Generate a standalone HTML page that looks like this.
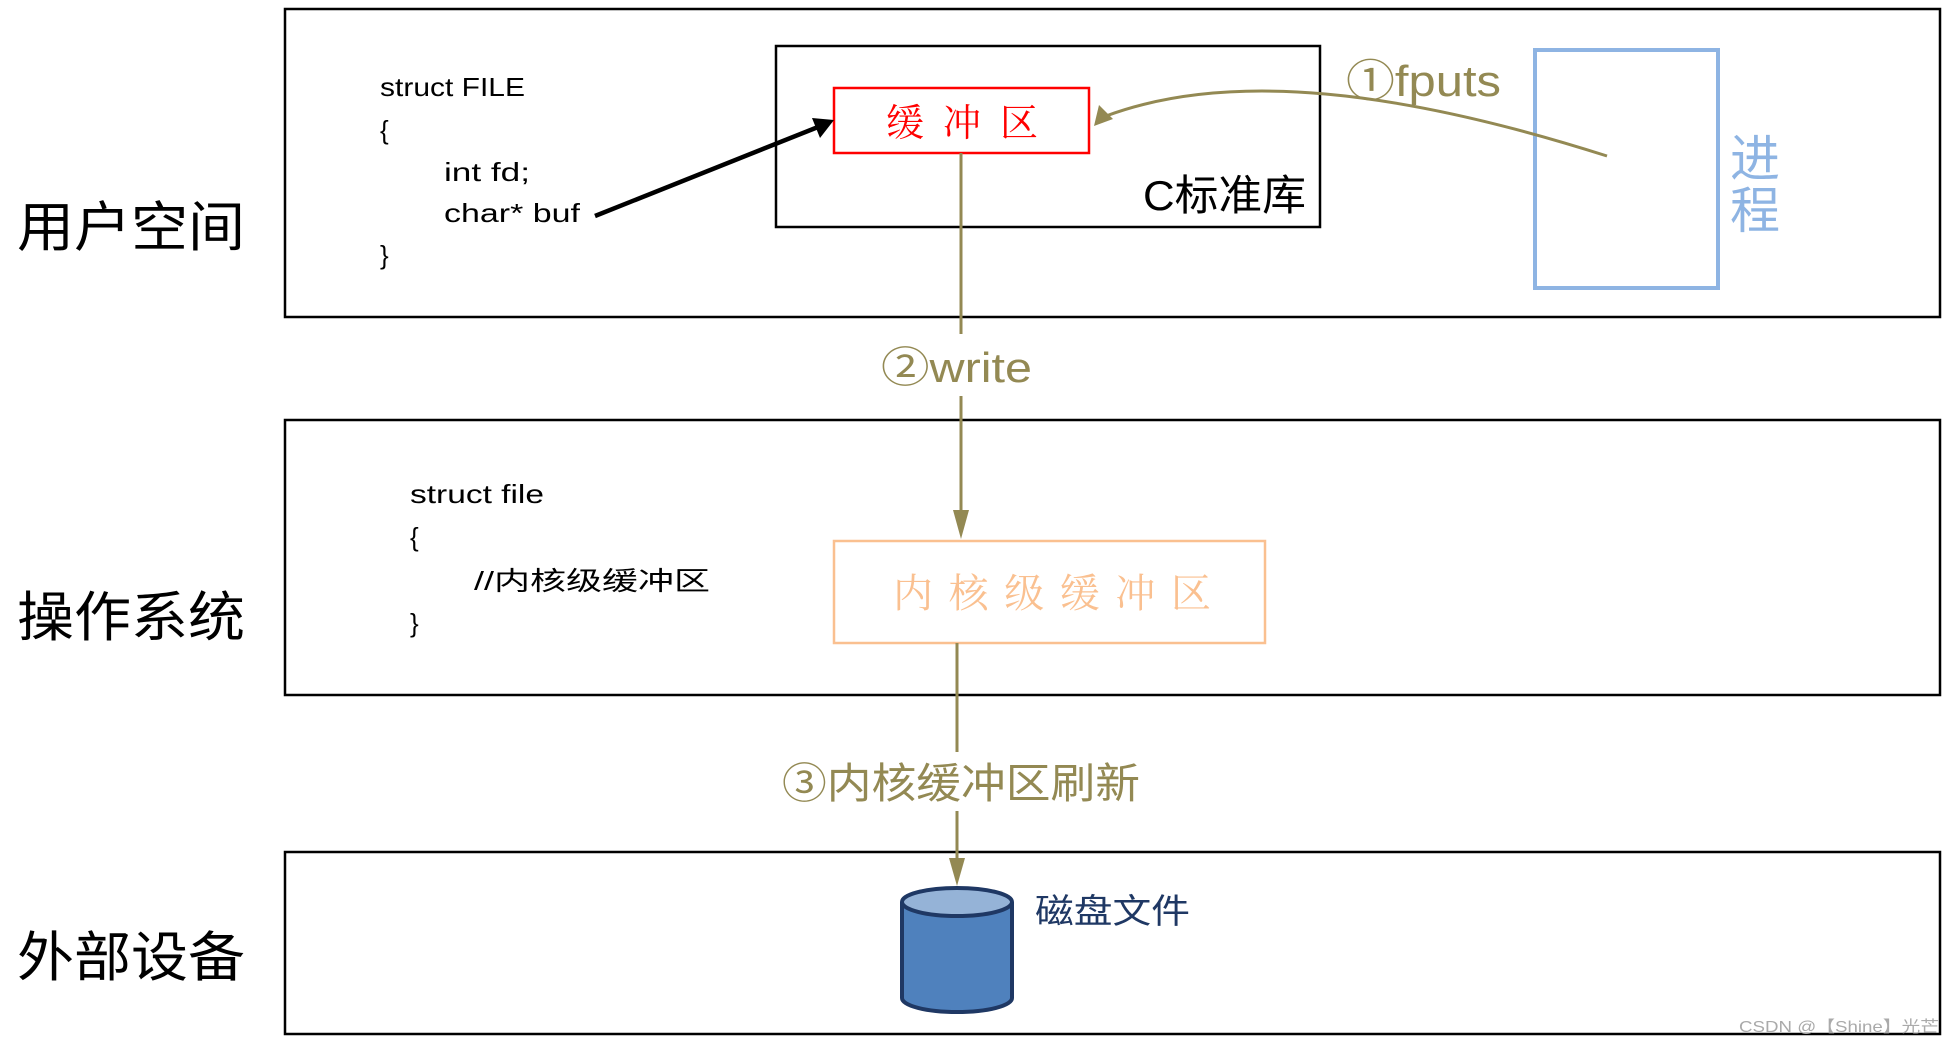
<!DOCTYPE html>
<html><head><meta charset="utf-8"><style>
html,body{margin:0;padding:0;background:#fff;}
svg{display:block;}
text{font-family:"Liberation Sans","Noto Sans CJK SC",sans-serif;}
</style></head><body>
<svg width="1954" height="1046" viewBox="0 0 1954 1046" xmlns="http://www.w3.org/2000/svg">
<!-- main boxes -->
<rect x="285" y="9" width="1655" height="308" fill="none" stroke="#000" stroke-width="2.5"/>
<rect x="285" y="420" width="1655" height="275" fill="none" stroke="#000" stroke-width="2.5"/>
<rect x="285" y="852" width="1655" height="182" fill="none" stroke="#000" stroke-width="2.5"/>
<!-- left labels -->
<text x="17" y="246" font-size="54" fill="#000" textLength="228" lengthAdjust="spacingAndGlyphs">用户空间</text>
<text x="17" y="636" font-size="54" fill="#000" textLength="228" lengthAdjust="spacingAndGlyphs">操作系统</text>
<text x="17" y="976" font-size="54" fill="#000" textLength="228" lengthAdjust="spacingAndGlyphs">外部设备</text>
<!-- struct FILE -->
<g font-size="26" fill="#000">
<text x="380" y="96" textLength="145" lengthAdjust="spacingAndGlyphs">struct FILE</text>
<text x="380" y="139">{</text>
<text x="444" y="181" textLength="86" lengthAdjust="spacingAndGlyphs">int fd;</text>
<text x="444" y="222" textLength="136" lengthAdjust="spacingAndGlyphs">char* buf</text>
<text x="380" y="264">}</text>
</g>
<!-- C lib box -->
<rect x="776" y="46" width="544" height="181" fill="none" stroke="#000" stroke-width="2.5"/>
<text x="1143" y="210" font-size="42" fill="#000" textLength="163" lengthAdjust="spacingAndGlyphs">C标准库</text>
<!-- red buffer -->
<rect x="834" y="88" width="255" height="65" fill="none" stroke="#f00" stroke-width="2.5"/>
<text x="886" y="136" font-size="38" fill="#f00" style="font-family:'Noto Serif CJK SC',serif" textLength="152" lengthAdjust="spacing">缓冲区</text>
<!-- black arrow -->
<line x1="595" y1="216" x2="818" y2="127" stroke="#000" stroke-width="4.5"/>
<polygon points="834,120 812,118 820,138" fill="#000"/>
<!-- process box -->
<rect x="1535" y="50" width="183" height="238" fill="none" stroke="#8eb4e3" stroke-width="4"/>
<text x="1730" y="176" font-size="50" fill="#8eb4e3">进</text>
<text x="1730" y="228" font-size="50" fill="#8eb4e3">程</text>
<!-- fputs curve -->
<path d="M1607,156 C1400,90 1230,70 1106,116" fill="none" stroke="#938953" stroke-width="3"/>
<polygon points="1094,126 1099,105 1113,119" fill="#938953"/>
<text x="1346" y="96" font-size="44" fill="#938953" textLength="155" lengthAdjust="spacingAndGlyphs">①fputs</text>
<!-- write line -->
<line x1="961" y1="153" x2="961" y2="334" stroke="#938953" stroke-width="3"/>
<text x="881" y="382" font-size="42" fill="#938953" textLength="151" lengthAdjust="spacingAndGlyphs">②write</text>
<line x1="961" y1="396" x2="961" y2="516" stroke="#938953" stroke-width="3"/>
<polygon points="953,510 969,510 961,539" fill="#938953"/>
<!-- struct file -->
<g font-size="26" fill="#000">
<text x="410" y="503" textLength="134" lengthAdjust="spacingAndGlyphs">struct file</text>
<text x="410" y="546">{</text>
<text x="474" y="590" textLength="236" lengthAdjust="spacingAndGlyphs">//内核级缓冲区</text>
<text x="410" y="632">}</text>
</g>
<!-- kernel buffer -->
<rect x="834" y="541" width="431" height="102" fill="none" stroke="#fac090" stroke-width="2.5"/>
<text x="893" y="607" font-size="40" fill="#fac090" style="font-family:'Noto Serif CJK SC',serif" textLength="318" lengthAdjust="spacing">内核级缓冲区</text>
<!-- flush line -->
<line x1="957" y1="643" x2="957" y2="752" stroke="#938953" stroke-width="3"/>
<text x="782" y="798" font-size="42" fill="#938953" textLength="358" lengthAdjust="spacingAndGlyphs">③内核缓冲区刷新</text>
<line x1="957" y1="811" x2="957" y2="862" stroke="#938953" stroke-width="3"/>
<polygon points="949,858 965,858 957,886" fill="#938953"/>
<!-- cylinder -->
<path d="M902,902 L902,998 A55,14 0 0 0 1012,998 L1012,902" fill="#4f81bd" stroke="#1f3864" stroke-width="4"/>
<ellipse cx="957" cy="902" rx="55" ry="14" fill="#95b3d7" stroke="#1f3864" stroke-width="4"/>
<text x="1035" y="923" font-size="34" fill="#1f3864" textLength="155" lengthAdjust="spacingAndGlyphs">磁盘文件</text>
<!-- watermark -->
<text x="1739" y="1032" font-size="16" fill="#aaa" textLength="200" lengthAdjust="spacingAndGlyphs">CSDN @【Shine】光芒</text>
</svg>
</body></html>
